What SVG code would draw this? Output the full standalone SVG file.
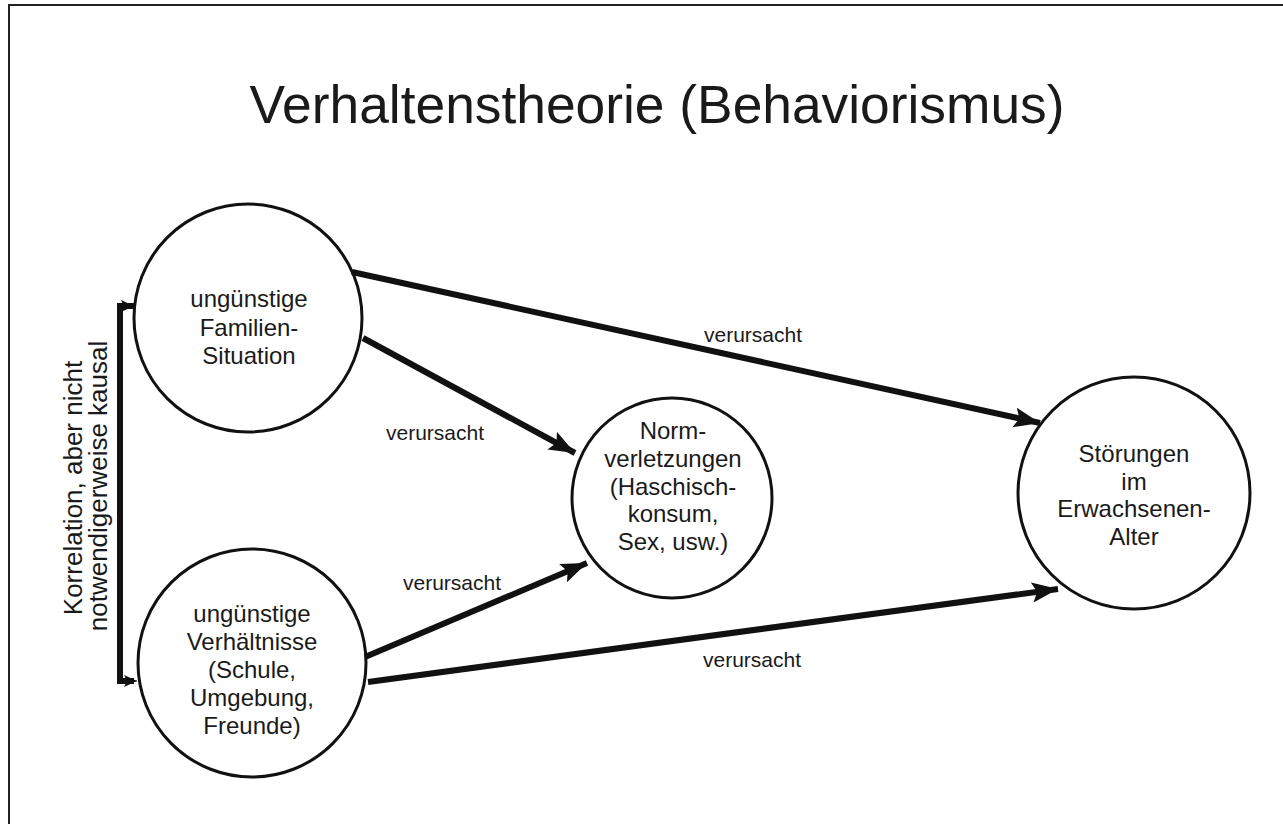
<svg xmlns="http://www.w3.org/2000/svg" width="1283" height="824" viewBox="0 0 1283 824">
<defs>
<style>
text{font-family:"Liberation Sans",Arial,sans-serif;fill:#1a1a1a}
.node{fill:none;stroke:#111;stroke-width:3}
.lbl{font-size:24px;text-anchor:middle}
.edge{stroke:#111;stroke-width:6;fill:none}
.edge-lbl{font-size:21px;text-anchor:middle}
</style>
<marker id="ah" markerUnits="userSpaceOnUse" markerWidth="30" markerHeight="22" refX="26" refY="10" orient="auto">
<path d="M0,0 L26,10 L0,20 L5,10 Z" fill="#111"/>
</marker>
<marker id="ahs" markerUnits="userSpaceOnUse" markerWidth="16" markerHeight="14" refX="13" refY="6" orient="auto">
<path d="M0,0 L13,6 L0,12 L3,6 Z" fill="#111"/>
</marker>
</defs>
<rect x="0" y="0" width="1283" height="824" fill="#fff"/>
<path d="M9,830 V5 H1290" fill="none" stroke="#222" stroke-width="2"/>
<text x="657" y="123" font-size="54" text-anchor="middle" textLength="815" lengthAdjust="spacingAndGlyphs">Verhaltenstheorie (Behaviorismus)</text>

<g id="connectors">
<line class="edge" x1="352" y1="272" x2="1040" y2="423" marker-end="url(#ah)"/>
<line class="edge" x1="363" y1="338" x2="575" y2="453" marker-end="url(#ah)"/>
<line class="edge" x1="365" y1="657" x2="587" y2="563" marker-end="url(#ah)"/>
<line class="edge" x1="368" y1="682" x2="1058" y2="589" marker-end="url(#ah)"/>
<path d="M134,306 H120 V681 H134" fill="none" stroke="#111" stroke-width="6"/>
<path d="M122,306 H134" stroke="#111" stroke-width="1" marker-end="url(#ahs)"/>
<path d="M122,681 H137" stroke="#111" stroke-width="1" marker-end="url(#ahs)"/>
<text class="edge-lbl" x="753" y="342">verursacht</text>
<text class="edge-lbl" x="435" y="440">verursacht</text>
<text class="edge-lbl" x="452" y="590">verursacht</text>
<text class="edge-lbl" x="752" y="667">verursacht</text>
<text font-size="26" text-anchor="middle" transform="translate(82,488) rotate(-90)">Korrelation, aber nicht</text>
<text font-size="26" text-anchor="middle" transform="translate(107,486) rotate(-90)">notwendigerweise kausal</text>
</g>

<g id="n-familie">
<circle class="node" cx="248" cy="318" r="114"/>
<text class="lbl" x="249" y="307">ungünstige</text>
<text class="lbl" x="249" y="336">Familien-</text>
<text class="lbl" x="249" y="364">Situation</text>
</g>
<g id="n-verhaeltnisse">
<circle class="node" cx="252" cy="663" r="114"/>
<text class="lbl" x="252" y="622">ungünstige</text>
<text class="lbl" x="252" y="650">Verhältnisse</text>
<text class="lbl" x="252" y="678">(Schule,</text>
<text class="lbl" x="252" y="706">Umgebung,</text>
<text class="lbl" x="252" y="734">Freunde)</text>
</g>
<g id="n-norm">
<circle class="node" cx="672" cy="498" r="100"/>
<text class="lbl" x="673" y="439">Norm-</text>
<text class="lbl" x="673" y="467">verletzungen</text>
<text class="lbl" x="673" y="495">(Haschisch-</text>
<text class="lbl" x="673" y="522">konsum,</text>
<text class="lbl" x="673" y="550">Sex, usw.)</text>
</g>
<g id="n-stoerungen">
<circle class="node" cx="1134" cy="493" r="116"/>
<text class="lbl" x="1134" y="462">Störungen</text>
<text class="lbl" x="1134" y="490">im</text>
<text class="lbl" x="1134" y="517">Erwachsenen-</text>
<text class="lbl" x="1134" y="545">Alter</text>
</g>
</svg>
